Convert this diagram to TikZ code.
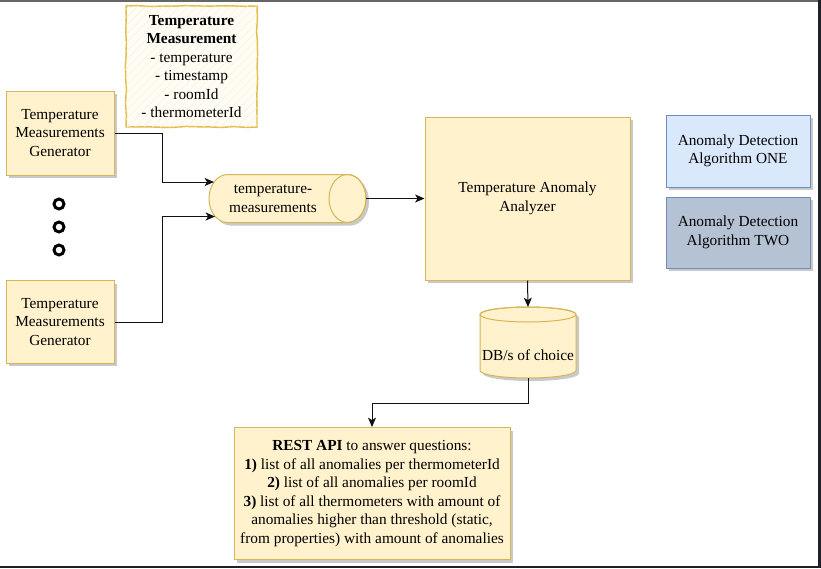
\documentclass[tikz,border=0pt]{standalone}
\usepackage{fontspec}
\setmainfont{Liberation Serif}
\usetikzlibrary{arrows.meta,patterns.meta,decorations.pathmorphing,calc}

\definecolor{yfill}{HTML}{FFF2CC}
\definecolor{ystroke}{HTML}{D6B656}
\definecolor{bfill}{HTML}{DAE8FC}
\definecolor{bstroke}{HTML}{6C8EBF}
\definecolor{gfill}{HTML}{B4C2D3}
\definecolor{shadowc}{HTML}{C9C9C9}
\definecolor{sketchc}{HTML}{E3BD4A}
\definecolor{hatchc}{HTML}{FAF0D4}
\definecolor{sketchbg}{HTML}{FFFDF6}
\definecolor{darkc}{HTML}{1E1F29}
\definecolor{linec}{HTML}{111111}

\begin{document}
\begin{tikzpicture}[x=0.75pt,y=-0.75pt,
  font=\fontsize{11.5}{13.9}\selectfont,
  shadowed/.style={preaction={fill=shadowc, transform canvas={xshift=2.25pt,yshift=-2.25pt}}},
  ybox/.style={draw=ystroke, fill=yfill, line width=0.75pt, align=center, inner sep=2pt, shadowed},
  algbox/.style={draw=bstroke, line width=0.75pt, align=center, inner sep=2pt, minimum width=108pt, shadowed},
  sketchbox/.style={draw=sketchc, line width=1.1pt, fill=sketchbg,
     postaction={pattern={Lines[angle=45,distance=4.5pt,line width=0.4pt]}, pattern color=hatchc},
     align=center, inner sep=2pt,
     decorate, decoration={random steps, segment length=9pt, amplitude=0.45pt}},
  conn/.style={draw=linec, line width=0.75pt, -{Stealth[length=7pt,width=6pt,inset=1.8pt]}},
  ghost/.style={inner sep=0pt, outer sep=0pt},
  dotc/.style={circle, draw=black, line width=2.2pt, minimum size=7.5pt, inner sep=0pt},
  lbl/.style={align=center, inner sep=0pt}
]
\useasboundingbox (0,0) rectangle (821,568);
\fill[white] (0,0) rectangle (821,568);
\fill[darkc] (818,0) rectangle (821,568);
\fill[darkc] (0,566) rectangle (821,568);
\fill[black!60] (0,0) rectangle (818,1.5);

% generators
\node[ybox, minimum width=81pt, minimum height=63pt] (gen1) at (60,133) {Temperature\\Measurements\\Generator};
\node[ybox, minimum width=81pt, minimum height=62pt] (gen2) at (60,322) {Temperature\\Measurements\\Generator};

% dots
\node[dotc] (dot1) at (59,204) {};
\node[dotc] (dot2) at (59,227) {};
\node[dotc] (dot3) at (59,250) {};

% Temperature measurement (sketch)
\node[sketchbox, minimum width=98.25pt, minimum height=90.75pt] (tm) at (191.5,66.5)
  {\textbf{Temperature}\\\textbf{Measurement}\\- temperature\\- timestamp\\- roomId\\- thermometerId};

% horizontal cylinder (topic)
\begin{scope}[shift={(3,3)}]
  \fill[shadowc] (227.5,174.5) -- (347.5,174.5) arc[start angle=90, end angle=-90, x radius=13.875pt, y radius=18pt]
     -- (227.5,222.5) arc[start angle=270, end angle=90, x radius=13.875pt, y radius=18pt] -- cycle;
\end{scope}
\draw[draw=ystroke, fill=yfill, line width=0.75pt] (227.5,174.5) -- (347.5,174.5) arc[start angle=90, end angle=-90, x radius=13.875pt, y radius=18pt]
     -- (227.5,222.5) arc[start angle=270, end angle=90, x radius=13.875pt, y radius=18pt] -- cycle;
\draw[draw=ystroke, line width=0.75pt] (347.5,198.5) ellipse[x radius=13.875pt, y radius=18pt];
\node[ghost, minimum width=117.75pt, minimum height=36pt] (topic) at (287.5,198.5) {};
\node[lbl] (topiclabel) at (273,199) {temperature-\\measurements};
\coordinate (tin1) at (214,182);
\coordinate (tin2) at (215,216.5);
\coordinate (tout) at (366,198.5);

% analyzer
\node[ybox, minimum width=153.75pt, minimum height=122.25pt] (analyzer) at (527.5,198.5) {Temperature Anomaly\\Analyzer};

% algorithms
\node[algbox, fill=bfill, minimum height=54pt] (algone) at (738,151) {Anomaly Detection\\Algorithm ONE};
\node[algbox, fill=gfill, minimum height=53.25pt] (algtwo) at (738,232.5) {Anomaly Detection\\Algorithm TWO};

% DB cylinder
\begin{scope}[shift={(3,3)}]
  \fill[shadowc] (480,314.5) -- (480,370.5) arc[start angle=180, end angle=360, x radius=36pt, y radius=5.625pt]
     -- (576,314.5) arc[start angle=0, end angle=180, x radius=36pt, y radius=5.625pt] -- cycle;
\end{scope}
\draw[draw=ystroke, fill=yfill, line width=0.75pt] (480,314.5) -- (480,370.5) arc[start angle=180, end angle=360, x radius=36pt, y radius=5.625pt]
     -- (576,314.5) arc[start angle=0, end angle=180, x radius=36pt, y radius=5.625pt] -- cycle;
\draw[draw=ystroke, line width=0.75pt] (528,314.5) ellipse[x radius=36pt, y radius=5.625pt];
\node[ghost, minimum width=72pt, minimum height=53.25pt] (db) at (528,342.5) {};
\node[lbl] (dblabel) at (528,355) {DB/s of choice};

% REST API
\node[ybox, minimum width=207pt, minimum height=99pt] (api) at (372,493.5)
  {\textbf{REST API} to answer questions:\\\textbf{1)} list of all anomalies per thermometerId\\\textbf{2)} list of all anomalies per roomId\\\textbf{3)} list of all thermometers with amount of\\anomalies higher than threshold (static,\\from properties) with amount of anomalies};

% connectors
\draw[conn] (gen1.east) -- ++(48,0) |- (tin1);
\draw[conn] (gen2.east) -- ++(48,0) |- (tin2);
\draw[conn] (tout) -- (analyzer.west);
\draw[conn] (analyzer.south) -- (db.north);
\draw[conn] (db.south) -- ++(0,25) -| (api.north);
\end{tikzpicture}
\end{document}
